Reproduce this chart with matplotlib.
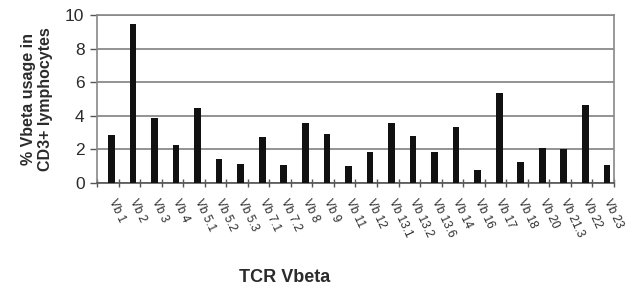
import matplotlib
matplotlib.use("Agg")
import matplotlib.pyplot as plt
import numpy as np

categories = ["Vb 1", "Vb 2", "Vb 3", "Vb 4", "Vb 5.1", "Vb 5.2", "Vb 5.3", "Vb 7.1",
              "Vb 7.2", "Vb 8", "Vb 9", "Vb 11", "Vb 12", "Vb 13.1", "Vb 13.2", "Vb 13.6",
              "Vb 14", "Vb 16", "Vb 17", "Vb 18", "Vb 20", "Vb 21.3", "Vb 22", "Vb 23"]
usage = [2.87, 9.45, 3.84, 2.26, 4.44, 1.45, 1.15, 2.73, 1.09, 3.58, 2.89, 1.03,
         1.86, 3.58, 2.79, 1.86, 3.33, 0.75, 5.33, 1.23, 2.10, 2.02, 4.63, 1.09]
yticks = [0, 2, 4, 6, 8, 10]

plt.rcParams["font.family"] = ["Liberation Sans", "DejaVu Sans"]
text_col = "#2b2b2b"

fig = plt.figure(figsize=(6.29, 2.89), dpi=100)
ax = fig.add_axes([97 / 629, 1 - 183 / 289, (614 - 97) / 629, (183 - 15) / 289])

n = len(categories)
x = np.arange(n) + 0.17  # bars sit a bit right of the category centre
ax.bar(x, usage, width=0.31, color="#111111", zorder=3)
ax.set_xlim(-0.5, n - 0.5)
ax.set_ylim(0, 10)
ax.set_yticks(yticks)
ax.set_yticklabels([str(v) for v in yticks], fontsize=12.5, color=text_col)
ax.yaxis.grid(True, color="#808080", linewidth=1.2, zorder=0)

ax.set_xticks(x)
ax.set_xticklabels(categories, rotation=-65, ha="left", va="center",
                   rotation_mode="anchor", fontsize=8.5, color=text_col)
ax.set_xticks(np.arange(-0.5, n, 1.0), minor=True)
ax.tick_params(axis="x", which="major", length=0, pad=12)
ax.tick_params(axis="x", which="minor", direction="inout", length=6, color="#555555", width=1)
ax.tick_params(axis="y", direction="out", length=5, color="#555555", width=1, pad=4)

for side in ["top", "right", "left"]:
    ax.spines[side].set_color("#888888")
    ax.spines[side].set_linewidth(1.2)
ax.spines["bottom"].set_color("#555555")
ax.spines["bottom"].set_linewidth(1.2)

ax.set_ylabel("% Vbeta usage in\nCD3+ lymphocytes", fontsize=11.5, fontweight="bold",
              color=text_col, labelpad=9, linespacing=1.15)
fig.text(285 / 629, 1 - 278 / 289, "TCR Vbeta", fontsize=13, fontweight="bold",
         color=text_col, ha="center", va="center")

fig.savefig("out.png", dpi=100)
